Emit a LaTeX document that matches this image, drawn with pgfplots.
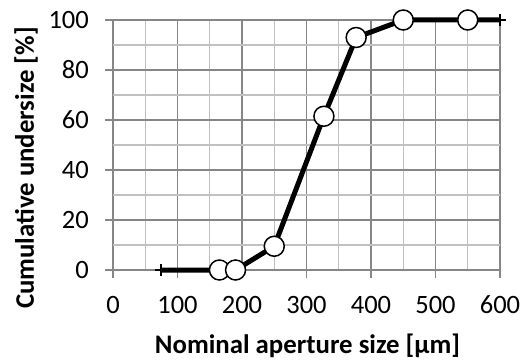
\documentclass[border=0pt]{standalone}
\usepackage{pgfplots}
\pgfplotsset{compat=1.18}
\usepackage{fontspec}
\setmainfont{Carlito}

\definecolor{majgrid}{HTML}{868686}
\definecolor{mingrid}{HTML}{C0C0C0}

% cumulative undersize curve (sieve analysis)
\pgfplotstableread{
x y
75 0
165 0
190 0
250 9.5
327 61.5
377 93
450 100
550 100
600 100
}\sievedata

\pgfplotstableread{
x y
165 0
190 0
250 9.5
327 61.5
377 93
450 100
550 100
}\sievepoints

\pgfplotstableread{
x y
75 0
600 100
}\sieveends

\begin{document}
\begin{tikzpicture}
\begin{axis}[
  at={(0,0)}, anchor=south west,
  scale only axis,
  width=387bp, height=250bp,
  xmin=0, xmax=600, ymin=0, ymax=100,
  xtick={0,100,...,600},
  ytick={0,20,...,100},
  minor x tick num=1,
  minor y tick num=1,
  grid=both,
  major grid style={line width=1.1bp, color=majgrid},
  minor grid style={line width=1.1bp, color=mingrid},
  axis line style={draw=none},
  tick align=outside,
  major tick length=8bp,
  minor tick length=0pt,
  tick style={line width=1.1bp, color=majgrid},
  xtick pos=bottom, ytick pos=left,
  /pgf/number format/assume math mode=true,
  ticklabel style={font=\fontsize{26.5bp}{30bp}\selectfont, inner sep=0pt},
  xticklabel style={anchor=base, yshift=-35bp},
  yticklabel style={anchor=east, xshift=-16bp},
  xlabel={\textbf{Nominal aperture size [µm]}},
  ylabel={\textbf{Cumulative undersize [\%]}},
  label style={font=\fontsize{26.8bp}{30bp}\selectfont, inner sep=0pt},
  xlabel style={at={(axis description cs:0.5026,0)}, anchor=base, yshift=-83.5bp},
  ylabel style={at={(axis description cs:-0.2248,0.408)}, anchor=center, rotate=0},
  clip=false,
]
\addplot[black, line width=5bp, mark=none] table[x=x,y=y]{\sievedata};
\addplot[black, only marks, mark=+, mark size=6bp, mark options={line width=2bp}] table[x=x,y=y]{\sieveends};
\addplot[black, only marks, mark=*, mark size=10bp, mark options={fill=white, draw=black, line width=1.5bp}] table[x=x,y=y]{\sievepoints};
\end{axis}
\pgfresetboundingbox
\path[use as bounding box] (-113bp,-90bp) rectangle (410bp,270bp);
\end{tikzpicture}
\end{document}
